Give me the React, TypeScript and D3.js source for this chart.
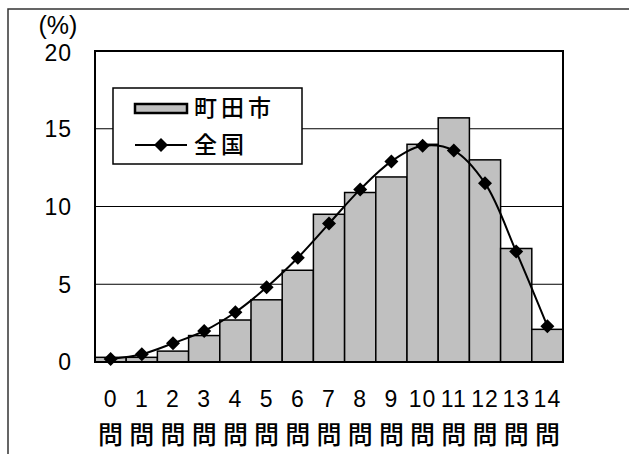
import * as d3 from "d3";
import React from "react";

// 正答数の分布
const categories = ["0", "1", "2", "3", "4", "5", "6", "7", "8", "9", "10", "11", "12", "13", "14"];
const machida = [0.3, 0.3, 0.7, 1.7, 2.7, 4.0, 5.9, 9.5, 10.9, 11.9, 14.0, 15.7, 13.0, 7.3, 2.1];
const national = [0.2, 0.5, 1.2, 2.0, 3.2, 4.8, 6.7, 8.9, 11.1, 12.9, 13.9, 13.6, 11.5, 7.1, 2.3];
const yTicks = [0, 5, 10, 15, 20];
const seriesNames = ["町田市", "全国"];

const W = 629;
const H = 454;
const margin = { top: 51, right: 66, bottom: 92, left: 95 };
const numFont = "'Liberation Sans', Arial, sans-serif";
const cjkFont = "'Noto Sans CJK JP', sans-serif";

const App = () => {
  const innerW = W - margin.left - margin.right;
  const innerH = H - margin.top - margin.bottom;

  const x = d3.scaleBand().domain(categories).range([0, innerW]).padding(0);
  const y = d3.scaleLinear().domain([0, 20]).range([innerH, 0]);

  const line = d3
    .line<number>()
    .x((d, i) => x(categories[i])! + x.bandwidth() / 2)
    .y((d) => y(d))
    .curve(d3.curveCatmullRom.alpha(0.5));

  const diamond = (cx: number, cy: number, r = 7) =>
    `M${cx},${cy - r}L${cx + r},${cy}L${cx},${cy + r}L${cx - r},${cy}Z`;

  return (
    <svg
      width={W}
      height={H}
      style={{ position: "fixed", left: 0, top: 0, background: "#fff" }}
    >
      <rect x={8} y={9} width={700} height={600} fill="none" stroke="#333" strokeWidth={1.5} />
      <text x={58} y={34} textAnchor="middle" fontFamily={numFont} fontSize={25} fontWeight={300}>
        (%)
      </text>
      <g transform={`translate(${margin.left},${margin.top})`}>
        {yTicks.slice(1, -1).map((t) => (
          <line key={t} x1={0} x2={innerW} y1={y(t)} y2={y(t)} stroke="#000" strokeWidth={1} />
        ))}
        {yTicks.map((t) => (
          <text
            key={"yl" + t}
            x={-23}
            y={y(t) + (t === 20 ? 2 : 0)}
            dy="0.36em"
            textAnchor="end"
            fontFamily={numFont}
            fontSize={23}
            letterSpacing={1}
          >
            {t}
          </text>
        ))}
        {machida.map((v, i) => (
          <rect
            key={i}
            x={x(categories[i])}
            y={y(v)}
            width={x.bandwidth()}
            height={innerH - y(v)}
            fill="#c0c0c0"
            stroke="#000"
            strokeWidth={1.5}
          />
        ))}
        <rect x={0} y={0} width={innerW} height={innerH} fill="none" stroke="#000" strokeWidth={2} />
        <path d={line(national) || ""} fill="none" stroke="#000" strokeWidth={2} />
        {national.map((v, i) => (
          <path key={"m" + i} d={diamond(x(categories[i])! + x.bandwidth() / 2, y(v))} fill="#000" />
        ))}
        {categories.map((c) => (
          <g key={"xl" + c}>
            <text
              x={x(c)! + x.bandwidth() / 2}
              y={innerH + 37}
              dy="0.36em"
              textAnchor="middle"
              fontFamily={numFont}
              fontSize={23}
              letterSpacing={1}
            >
              {c}
            </text>
            <text
              x={x(c)! + x.bandwidth() / 2}
              y={innerH + 73}
              dy="0.36em"
              textAnchor="middle"
              fontFamily={cjkFont}
              fontSize={25}
              fontWeight={500}
            >
              問
            </text>
          </g>
        ))}
      </g>
      {/* legend */}
      <g transform="translate(113,88)">
        <rect x={0} y={0} width={189} height={76} fill="#fff" stroke="#000" strokeWidth={1.5} />
        <rect x={22} y={16} width={52} height={9} fill="#c0c0c0" stroke="#000" strokeWidth={2.5} />
        <text x={81} y={20} dy="0.36em" fontFamily={cjkFont} fontSize={23} fontWeight={500} letterSpacing={4}>
          {seriesNames[0]}
        </text>
        <line x1={22} x2={74} y1={57} y2={57} stroke="#000" strokeWidth={2} />
        <path d={diamond(48, 57)} fill="#000" />
        <text x={81} y={57} dy="0.36em" fontFamily={cjkFont} fontSize={23} fontWeight={500} letterSpacing={4}>
          {seriesNames[1]}
        </text>
      </g>
    </svg>
  );
};

export default App;
